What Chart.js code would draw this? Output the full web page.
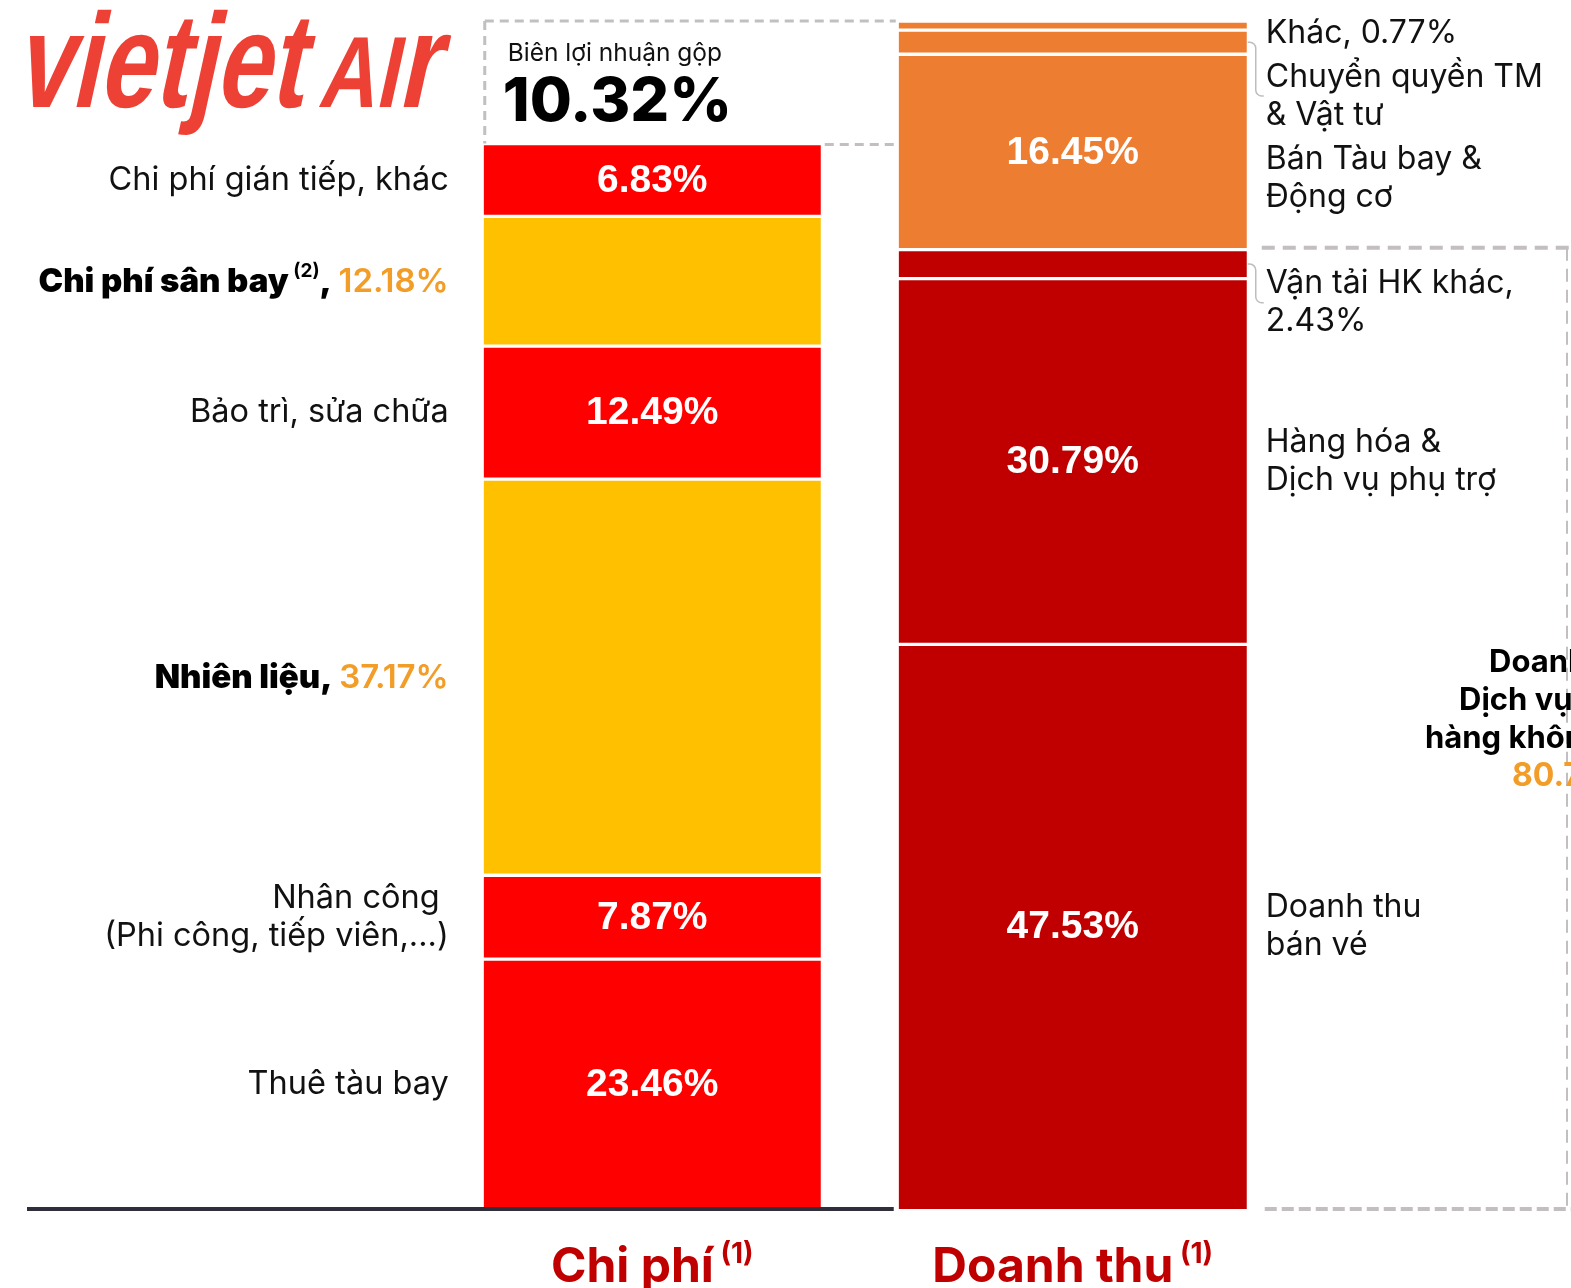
<!DOCTYPE html>
<html>
<head>
<meta charset="utf-8">
<script src="https://cdn.jsdelivr.net/npm/chart.js@4"></script>
<style>
  html, body { margin: 0; background: #fff; }
  canvas { display: block; }
</style>
</head>
<body>
<canvas id="myChart" width="1571" height="1288"></canvas>
<script>
// data
const barNames = ['Chi phí', 'Doanh thu'];
const barNotes = ['(1)', '(1)'];

const costNames = ['Thuê tàu bay', 'Nhân công', 'Nhiên liệu', 'Bảo trì, sửa chữa', 'Chi phí sân bay', 'Chi phí gián tiếp, khác'];
const costShares = [23.46, 7.87, 37.17, 12.49, 12.18, 6.83];
const costNotes = ['', '', '', '', '(2)', ''];
const grossMargin = 10.32;

const revenueShares = [47.53, 30.79, 2.43, 16.45, 2.03, 0.77];
const revenueLines = [
  ['Doanh thu', 'bán vé'],
  ['Hàng hóa &', 'Dịch vụ phụ trợ'],
  ['Vận tải HK khác,', revenueShares[2].toFixed(2) + '%'],
  ['Bán Tàu bay &', 'Động cơ'],
  ['Chuyển quyền TM', '& Vật tư'],
  ['Khác, ' + revenueShares[5].toFixed(2) + '%']
];
const aviationLines = ['Doanh thu', 'Dịch vụ vận tải', 'hàng không'];
const aviationCount = 3; // first three revenue items
const marginTitle = 'Biên lợi nhuận gộp';

// styles
const RED = '#FF0000', YELLOW = '#FFC000', DARKRED = '#C00000', ORANGE = '#ED7D31';
const costColors = [RED, RED, YELLOW, RED, YELLOW, RED];
const costHighlight = [false, false, true, false, true, false];
const revenueColors = [DARKRED, DARKRED, DARKRED, ORANGE, ORANGE, ORANGE];
const PCT_ORANGE = '#F29D28';
const DASH_GREY = '#C3BFC1';
const FONT = 'Inter';

const costScale = (100 - grossMargin) / 100;
const aviationShare = revenueShares.slice(0, aviationCount).reduce((a, b) => a + b, 0);

const datasets = [];
costShares.forEach((v, i) => {
  datasets.push({
    label: costNames[i],
    data: [v * costScale, null],
    backgroundColor: costColors[i],
    borderColor: '#ffffff',
    borderWidth: { top: 2, bottom: i === 0 ? 0 : 2, left: 0, right: 0 },
    borderSkipped: false,
    barThickness: 337
  });
});
revenueShares.forEach((v, i) => {
  datasets.push({
    label: revenueLines[i].join(' '),
    data: [null, v],
    backgroundColor: revenueColors[i],
    borderColor: '#ffffff',
    borderWidth: { top: 2, bottom: i === 0 ? 0 : 2, left: 0, right: 0 },
    borderSkipped: false,
    barThickness: 348
  });
});

function seg(chart, di, idx) {
  const el = chart.getDatasetMeta(di).data[idx];
  const top = Math.min(el.y, el.base), bottom = Math.max(el.y, el.base);
  return { x: el.x, top, bottom, mid: (top + bottom) / 2, left: el.x - el.width / 2, right: el.x + el.width / 2 };
}

// parts: [{t, font, color, dy}]
function drawParts(ctx, parts, x, y, align) {
  let total = 0;
  parts.forEach(p => { ctx.font = p.font; p.w = ctx.measureText(p.t).width; total += p.w; });
  let cx = align === 'right' ? x - total : align === 'center' ? x - total / 2 : x;
  ctx.textAlign = 'left';
  parts.forEach(p => {
    ctx.font = p.font;
    ctx.fillStyle = p.color || '#111';
    ctx.fillText(p.t, cx, y + (p.dy || 0));
    cx += p.w;
  });
}

function dashLine(ctx, x1, y1, x2, y2, width, dash) {
  ctx.save();
  ctx.strokeStyle = DASH_GREY;
  ctx.lineWidth = width;
  ctx.setLineDash(dash);
  ctx.beginPath();
  ctx.moveTo(x1, y1);
  ctx.lineTo(x2, y2);
  ctx.stroke();
  ctx.restore();
}

function drawLogo(ctx) {
  const big = 'bold 146px "Liberation Sans"', caps = 'bold 110px "Liberation Sans"';
  ctx.save();
  ctx.fillStyle = '#EE4136';
  ctx.textBaseline = 'alphabetic';
  ctx.textAlign = 'left';
  ctx.translate(14, 107);
  ctx.transform(1, 0, -0.22, 1, 0, 0);
  ctx.scale(1, 0.92);
  ctx.save();
  ctx.font = big;
  ctx.scale(288 / ctx.measureText('vietjet').width, 1);
  ctx.fillText('vietjet', 0, 0);
  ctx.restore();
  ctx.translate(303, 0);
  ctx.font = caps;
  const wA = ctx.measureText('AI').width;
  ctx.font = big;
  const wr = ctx.measureText('r').width;
  ctx.scale(120 / (wA + wr), 1);
  ctx.font = caps;
  ctx.fillText('AI', 0, 0);
  ctx.font = big;
  ctx.fillText('r', wA, 0);
  ctx.restore();
}

const annotate = {
  id: 'annotate',
  afterDatasetsDraw(chart) {
    const ctx = chart.ctx;
    const y = chart.scales.y;
    const nC = costShares.length;
    ctx.save();
    ctx.textBaseline = 'middle';

    drawLogo(ctx);

    // gross margin box
    const costTop = seg(chart, nC - 1, 0);
    const revBottom = seg(chart, nC, 1);
    const boxTop = y.getPixelForValue(100);
    const boxBottom = y.getPixelForValue(100 - grossMargin);
    const boxRight = revBottom.left - 3;
    dashLine(ctx, costTop.left + 1, boxTop, boxRight, boxTop, 3, [9, 6]);
    dashLine(ctx, costTop.left + 1, boxTop, costTop.left + 1, boxBottom, 3, [9, 6]);
    dashLine(ctx, costTop.right + 4, boxBottom + 1, boxRight, boxBottom + 1, 3, [9, 6]);
    drawParts(ctx, [{ t: marginTitle, font: `400 24.5px ${FONT}`, color: '#111' }], costTop.left + 24, boxTop + 33, 'left');
    drawParts(ctx, [{ t: grossMargin.toFixed(2) + '%', font: `800 61px ${FONT}`, color: '#000' }], costTop.left + 19, boxTop + 82, 'left');

    // cost labels
    costShares.forEach((v, i) => {
      const s = seg(chart, i, 0);
      const pct = v.toFixed(2) + '%';
      const lx = s.left - 35;
      if (costHighlight[i]) {
        const parts = [{ t: costNames[i], font: `900 33px ${FONT}`, color: '#000' }];
        if (costNotes[i]) {
          parts.push({ t: ' ' + costNotes[i], font: `700 19px ${FONT}`, color: '#000', dy: -11 });
        }
        parts.push({ t: ', ', font: `900 33px ${FONT}`, color: '#000' });
        parts.push({ t: pct, font: `600 33px ${FONT}`, color: PCT_ORANGE });
        drawParts(ctx, parts, lx, s.mid + 1, 'right');
      } else {
        const lines = i === 1 ? ['Nhân công ', '(Phi công, tiếp viên,...)'] : [costNames[i]];
        lines.forEach((ln, k) => {
          drawParts(ctx, [{ t: ln, font: `400 32.5px ${FONT}`, color: '#111' }], lx,
            s.mid - (lines.length - 1) * 19 + k * 38, 'right');
        });
        ctx.textAlign = 'center';
        ctx.fillStyle = '#fff';
        ctx.font = 'bold 39px "Liberation Sans"';
        ctx.fillText(pct, s.x, s.mid + 1);
      }
    });

    // revenue labels, top-down flow
    const barrier = y.getPixelForValue(aviationShare);
    let prevBottom = -Infinity;
    for (let i = revenueShares.length - 1; i >= 0; i--) {
      const s = seg(chart, nC + i, 1);
      const lines = revenueLines[i];
      const h = lines.length * 38;
      let top = Math.max(s.mid - h / 2, prevBottom + 6, 14);
      if (i < aviationCount) top = Math.max(top, barrier + 15);
      const lx = s.right + 19;
      lines.forEach((ln, k) => {
        drawParts(ctx, [{ t: ln, font: `400 32px ${FONT}`, color: '#111' }], lx, top + 19 + k * 38, 'left');
      });
      const lc = top + h / 2;
      if (Math.abs(lc - s.mid) > 30) {
        const bx = s.right + 9;
        ctx.save();
        ctx.strokeStyle = '#BDBDBD';
        ctx.lineWidth = 1.5;
        ctx.beginPath();
        ctx.moveTo(s.right + 1, s.mid);
        ctx.arcTo(bx, s.mid, bx, lc, 6);
        ctx.arcTo(bx, lc, lx, lc, 6);
        ctx.lineTo(lx - 2, lc);
        ctx.stroke();
        ctx.restore();
      }
      if (s.bottom - s.top > 60) {
        ctx.textAlign = 'center';
        ctx.fillStyle = '#fff';
        ctx.font = 'bold 39px "Liberation Sans"';
        ctx.fillText(revenueShares[i].toFixed(2) + '%', s.x, s.mid + 1);
      }
      prevBottom = top + h;
    }

    // aviation revenue bracket
    const base = y.getPixelForValue(0);
    const W = chart.width;
    dashLine(ctx, revBottom.right + 15, barrier - 2, W, barrier - 2, 4, [13, 8]);
    dashLine(ctx, W - 4, barrier - 2, W - 4, base, 2, [13, 8]);
    const mid = (barrier + base) / 2 - 67;
    const starts = [1489, 1459, 1425];
    aviationLines.forEach((ln, k) => {
      drawParts(ctx, [{ t: ln, font: `700 31px ${FONT}`, color: '#000' }], starts[k], mid + k * 38, 'left');
    });
    drawParts(ctx, [{ t: aviationShare.toFixed(2) + '%', font: `700 32px ${FONT}`, color: PCT_ORANGE }], 1512, mid + 3 * 38, 'left');

    // base lines
    ctx.save();
    ctx.strokeStyle = '#2F2F3B';
    ctx.lineWidth = 4;
    ctx.beginPath();
    ctx.moveTo(27, base);
    ctx.lineTo(revBottom.left - 5, base);
    ctx.stroke();
    ctx.restore();
    dashLine(ctx, revBottom.right + 18, base, W, base, 4, [12, 5]);

    // category names
    ctx.textBaseline = 'alphabetic';
    barNames.forEach((name, idx) => {
      const s = seg(chart, idx === 0 ? 0 : nC, idx);
      drawParts(ctx, [
        { t: name, font: `700 48px ${FONT}`, color: DARKRED },
        { t: ' ' + barNotes[idx], font: `700 28px ${FONT}`, color: DARKRED, dy: -19 }
      ], s.x, base + 73, 'center');
    });
    ctx.restore();
  }
};

const ctx = document.getElementById('myChart').getContext('2d');
const myChart = new Chart(ctx, {
  type: 'bar',
  data: { labels: barNames, datasets: datasets },
  options: {
    responsive: false,
    animation: false,
    layout: { padding: { left: 442, right: 288, top: 21, bottom: 79 } },
    scales: {
      x: { stacked: true, display: false },
      y: { stacked: true, display: false, min: 0, max: 100 }
    },
    plugins: {
      legend: { display: false },
      tooltip: { enabled: false }
    }
  },
  plugins: [annotate]
});
</script>
</body>
</html>
